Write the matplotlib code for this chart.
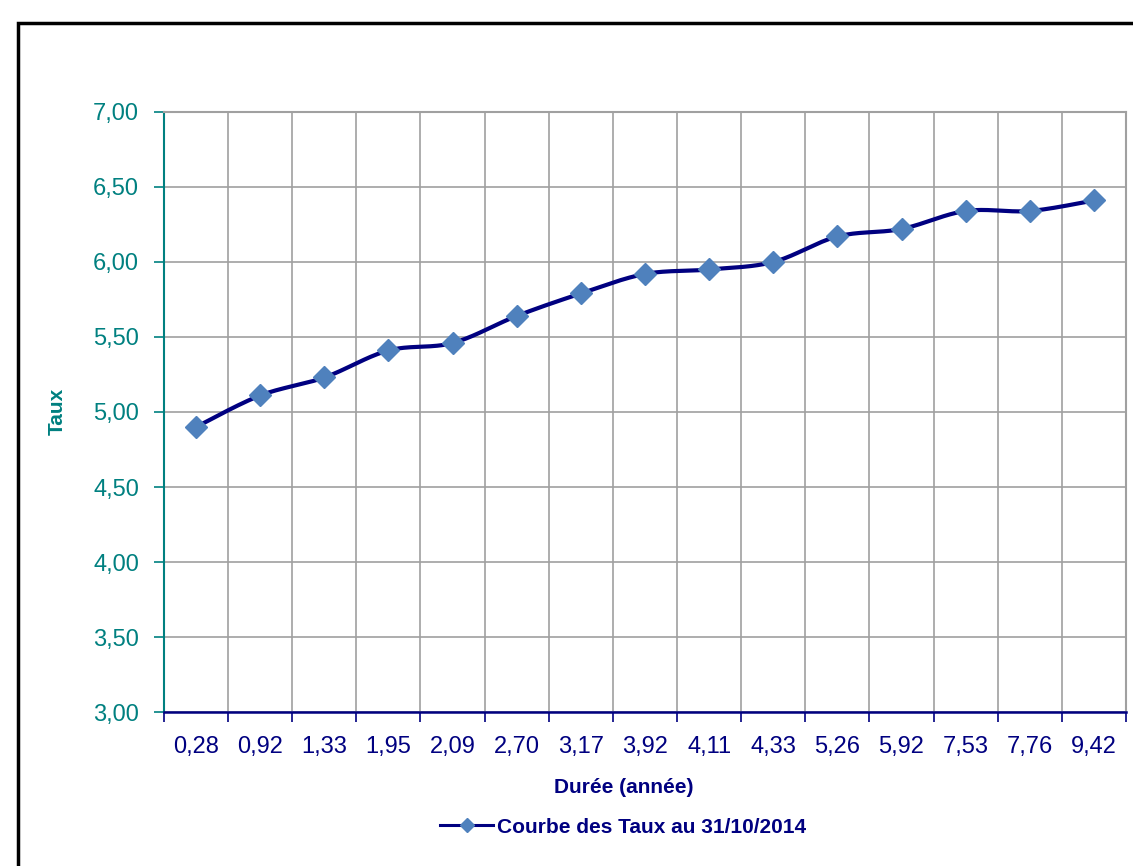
import numpy as np
import matplotlib
matplotlib.use("Agg")
import matplotlib.pyplot as plt
from matplotlib.patches import Rectangle
from matplotlib.ticker import FixedLocator, FuncFormatter

plt.rcParams['font.family'] = ['Liberation Sans', 'DejaVu Sans']

# data
durees = ["0,28", "0,92", "1,33", "1,95", "2,09", "2,70", "3,17", "3,92",
          "4,11", "4,33", "5,26", "5,92", "7,53", "7,76", "9,42"]
taux = [4.90, 5.11, 5.23, 5.41, 5.46, 5.64, 5.79, 5.92,
        5.95, 6.00, 6.17, 6.22, 6.34, 6.34, 6.41]
serie_label = "Courbe des Taux au 31/10/2014"

TEAL = "#008080"
NAVY = "#000080"
MARKER = "#4F81BD"


def smooth_curve(xs, ys, n=30, tension=0.5):
    """Excel-like smoothed line through the points (cardinal spline)."""
    xs = np.asarray(xs, float)
    ys = np.asarray(ys, float)
    px = np.concatenate([[xs[0]], xs, [xs[-1]]])
    py = np.concatenate([[ys[0]], ys, [ys[-1]]])
    out_x, out_y = [], []
    t = np.linspace(0, 1, n)
    for i in range(1, len(px) - 2):
        m1x = tension * (px[i + 1] - px[i - 1])
        m1y = tension * (py[i + 1] - py[i - 1])
        m2x = tension * (px[i + 2] - px[i])
        m2y = tension * (py[i + 2] - py[i])
        h00 = 2 * t**3 - 3 * t**2 + 1
        h10 = t**3 - 2 * t**2 + t
        h01 = -2 * t**3 + 3 * t**2
        h11 = t**3 - t**2
        out_x.append(h00 * px[i] + h10 * m1x + h01 * px[i + 1] + h11 * m2x)
        out_y.append(h00 * py[i] + h10 * m1y + h01 * py[i + 1] + h11 * m2y)
    return np.concatenate(out_x), np.concatenate(out_y)


fig = plt.figure(figsize=(11.33, 8.66), dpi=100)
ax = fig.add_axes([0.1447, 0.1778, 0.8491, 0.6929])

x = np.arange(len(durees))
sx, sy = smooth_curve(x, taux)
ax.plot(sx, sy, color=NAVY, linewidth=3.0, zorder=3, solid_capstyle='round')
ax.plot(x, taux, linestyle='none', marker='D', markersize=11,
        markerfacecolor=MARKER, markeredgecolor=MARKER, zorder=4)

ax.set_xlim(-0.5, len(durees) - 0.5)
ax.set_ylim(3.0, 7.0)

# boundaries between categories carry ticks and grid, centers carry labels
ax.xaxis.set_major_locator(FixedLocator(np.arange(-0.5, len(durees), 1.0)))
ax.xaxis.set_major_formatter(FuncFormatter(lambda v, p: ""))
ax.set_xticks(x, minor=True)
ax.set_xticklabels(durees, minor=True)
ax.tick_params(axis='x', which='major', direction='out', length=7, width=1.2, color=NAVY)
ax.tick_params(axis='x', which='minor', length=0, pad=17, labelsize=17, labelcolor=NAVY)

ax.set_yticks(np.arange(3.0, 7.01, 0.5))
ax.yaxis.set_major_formatter(FuncFormatter(lambda v, p: f"{v:.2f}".replace(".", ",")))
ax.tick_params(axis='y', direction='out', length=7, width=1.2, color=TEAL,
               labelsize=17, labelcolor=TEAL, pad=11)

ax.grid(True, which='major', color="#a0a0a0", linewidth=1.2)
ax.set_axisbelow(True)

ax.spines['left'].set_color(TEAL)
ax.spines['left'].set_linewidth(1.5)
ax.spines['bottom'].set_color(NAVY)
ax.spines['bottom'].set_linewidth(1.8)
ax.spines['top'].set_color("#a0a0a0")
ax.spines['right'].set_color("#a0a0a0")
ax.spines['top'].set_linewidth(1.5)
ax.spines['right'].set_linewidth(1.5)

fig.text(0.5503, 0.0912, "Durée (année)", ha='center', va='center',
         fontsize=15, fontweight='bold', color=NAVY)
fig.text(0.0503, 0.5254, "Taux", ha='center', va='center', rotation=90,
         fontsize=15, fontweight='bold', color=TEAL)

handle, = ax.plot([], [], color=NAVY, linewidth=2.2, marker='D', markersize=7,
                  markerfacecolor=MARKER, markeredgecolor=MARKER)
fig.legend([handle], [serie_label], loc='center', bbox_to_anchor=(0.55, 0.045),
           frameon=False, handlelength=2.5, handletextpad=0.2,
           prop={'size': 15, 'weight': 'bold'}, labelcolor=NAVY)

# outer chart frame (cut off on the right and bottom like the reference)
fig.patches.append(Rectangle((0.0155, -0.05), 1.2, 0.9734 + 0.05,
                             transform=fig.transFigure, fill=False,
                             edgecolor='black', linewidth=2.5, clip_on=False))

fig.savefig("out.png", dpi=100)
